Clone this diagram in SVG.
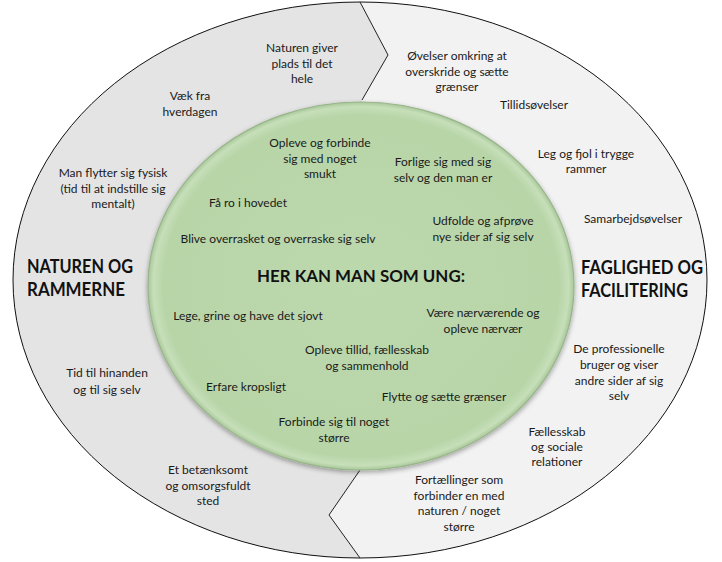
<svg xmlns="http://www.w3.org/2000/svg" width="722" height="562" viewBox="0 0 722 562">
<defs>
<style>
.t{font-family:Lato,"Open Sans","Liberation Sans",sans-serif;font-size:12px;fill:#1a1a1a;text-anchor:middle}
.h{font-family:Lato,"Open Sans","Liberation Sans",sans-serif;font-size:18px;font-weight:bold;fill:#111}
.c{font-family:Lato,"Open Sans","Liberation Sans",sans-serif;font-size:17px;font-weight:bold;fill:#111;text-anchor:middle}
.div{fill:none;stroke:#222;stroke-width:1}
</style>
<filter id="sh" x="-10%" y="-10%" width="120%" height="120%">
<feGaussianBlur in="SourceAlpha" stdDeviation="2.5"/>
<feOffset dx="0" dy="2" result="b"/>
<feComponentTransfer><feFuncA type="linear" slope="0.35"/></feComponentTransfer>
<feMerge><feMergeNode/><feMergeNode in="SourceGraphic"/></feMerge>
</filter>
<radialGradient id="gg" cx="0.5" cy="0.5" r="0.5">
<stop offset="0" stop-color="#bcd8ad"/>
<stop offset="0.93" stop-color="#b8d5a8"/>
<stop offset="0.975" stop-color="#c6dfb9"/>
<stop offset="1" stop-color="#a9c79a"/>
</radialGradient>
</defs>
<rect width="722" height="562" fill="#ffffff"/>
<g id="outer">
<ellipse cx="360" cy="280" rx="347" ry="278" fill="#f2f2f2"/>
<path d="M360,2 L388,55 L362,100 L360,470 L329,515 L360,558 A347,278 0 0 1 360,2 Z" fill="#e4e4e4"/>
<ellipse cx="360" cy="280" rx="347" ry="278" fill="none" stroke="#111" stroke-width="1"/>
</g>
<g id="connectors">
<polyline class="div" points="360,2 388,55 362,100"/>
<polyline class="div" points="360,470 329,515 360,558"/>
</g>
<g id="center">
<ellipse cx="361" cy="286" rx="213" ry="184" fill="url(#gg)" stroke="#98b58a" stroke-width="1.2" filter="url(#sh)"/>
<text class="c" x="361" y="282" textLength="208" lengthAdjust="spacingAndGlyphs">HER KAN MAN SOM UNG:</text>
</g>
<g id="left-title"><text class="h" x="27" y="273" textLength="106" lengthAdjust="spacingAndGlyphs">NATUREN OG</text><text class="h" x="27" y="296" textLength="98" lengthAdjust="spacingAndGlyphs">RAMMERNE</text></g>
<g id="right-title"><text class="h" x="581" y="274" textLength="122" lengthAdjust="spacingAndGlyphs">FAGLIGHED OG</text><text class="h" x="581" y="297" textLength="107" lengthAdjust="spacingAndGlyphs">FACILITERING</text></g>
<g id="n1"><text class="t" x="302" y="52">Naturen giver</text><text class="t" x="302" y="68">plads til det</text><text class="t" x="302" y="83">hele</text></g>
<g id="n2"><text class="t" x="190" y="100">Væk fra</text><text class="t" x="190" y="116">hverdagen</text></g>
<g id="n3"><text class="t" x="113" y="177">Man flytter sig fysisk</text><text class="t" x="113" y="193">(tid til at indstille sig</text><text class="t" x="113" y="208">mentalt)</text></g>
<g id="n4"><text class="t" x="107" y="377">Tid til hinanden</text><text class="t" x="107" y="394">og til sig selv</text></g>
<g id="n5"><text class="t" x="208" y="474">Et betænksomt</text><text class="t" x="208" y="490">og omsorgsfuldt</text><text class="t" x="208" y="505">sted</text></g>
<g id="n6"><text class="t" x="457" y="60">Øvelser omkring at</text><text class="t" x="457" y="76">overskride og sætte</text><text class="t" x="457" y="91">grænser</text></g>
<g id="n7"><text class="t" x="534" y="109">Tillidsøvelser</text></g>
<g id="n8"><text class="t" x="586" y="158">Leg og fjol i trygge</text><text class="t" x="586" y="173">rammer</text></g>
<g id="n9"><text class="t" x="633" y="223">Samarbejdsøvelser</text></g>
<g id="n10"><text class="t" x="619" y="353">De professionelle</text><text class="t" x="619" y="369">bruger og viser</text><text class="t" x="619" y="385">andre sider af sig</text><text class="t" x="619" y="400">selv</text></g>
<g id="n11"><text class="t" x="557" y="436">Fællesskab</text><text class="t" x="557" y="451">og sociale</text><text class="t" x="557" y="466">relationer</text></g>
<g id="n12"><text class="t" x="459" y="484">Fortællinger som</text><text class="t" x="459" y="500">forbinder en med</text><text class="t" x="459" y="515">naturen / noget</text><text class="t" x="459" y="531">større</text></g>
<g id="c1"><text class="t" x="320" y="147">Opleve og forbinde</text><text class="t" x="320" y="163">sig med noget</text><text class="t" x="320" y="178">smukt</text></g>
<g id="c2"><text class="t" x="443" y="166">Forlige sig med sig</text><text class="t" x="443" y="182">selv og den man er</text></g>
<g id="c3"><text class="t" x="248" y="207">Få ro i hovedet</text></g>
<g id="c4"><text class="t" x="483" y="225">Udfolde og afprøve</text><text class="t" x="483" y="241">nye sider af sig selv</text></g>
<g id="c5"><text class="t" x="278" y="243">Blive overrasket og overraske sig selv</text></g>
<g id="c6"><text class="t" x="248" y="320">Lege, grine og have det sjovt</text></g>
<g id="c7"><text class="t" x="483" y="317">Være nærværende og</text><text class="t" x="483" y="333">opleve nærvær</text></g>
<g id="c8"><text class="t" x="367" y="354">Opleve tillid, fællesskab</text><text class="t" x="367" y="370">og sammenhold</text></g>
<g id="c9"><text class="t" x="246" y="391">Erfare kropsligt</text></g>
<g id="c10"><text class="t" x="444" y="401">Flytte og sætte grænser</text></g>
<g id="c11"><text class="t" x="334" y="426">Forbinde sig til noget</text><text class="t" x="334" y="442">større</text></g>
</svg>
